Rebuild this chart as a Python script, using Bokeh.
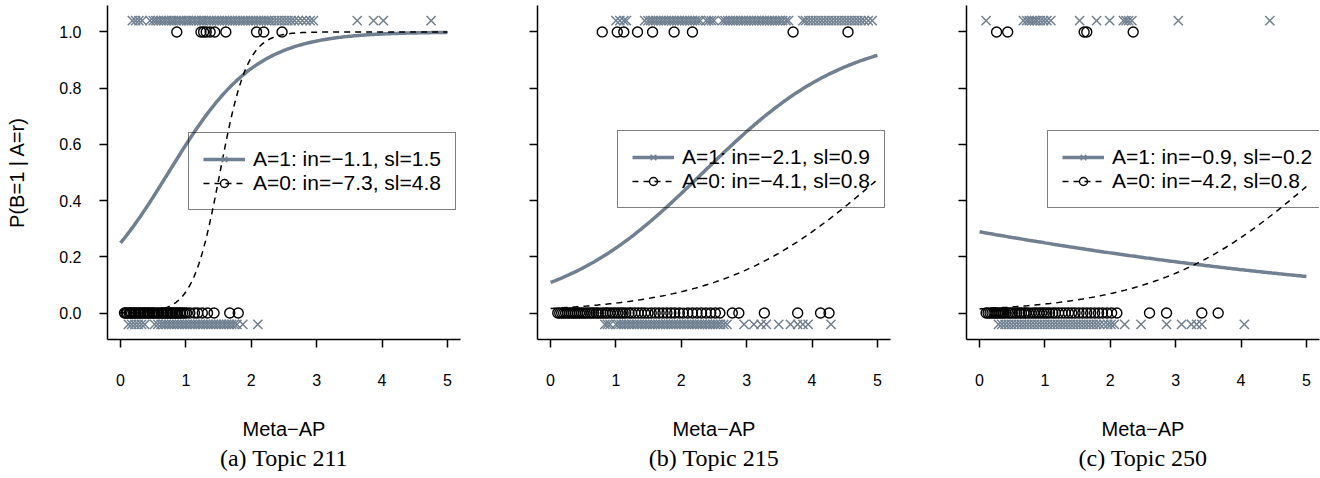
import numpy as np
from bokeh.plotting import figure
from bokeh.layouts import row
from bokeh.models import (Range1d, FixedTicker, Legend, LegendItem, Title, PrintfTickFormatter,
                          CustomJSTickFormatter)
from bokeh.embed import file_html
from bokeh.resources import INLINE

# Meta-AP values of the runs, split by A (1 = x marker, 0 = circle) and B (hi = 1, lo = 0)
t211_a1_hi = [0.18, 0.23, 0.28, 0.33, 0.45, 0.5, 0.54, 0.58, 0.62, 0.66, 0.7, 0.74, 0.78, 0.81,
              0.85, 0.89, 0.93, 0.97, 1.01, 1.04, 1.08, 1.12, 1.16, 1.2, 1.24, 1.27, 1.31, 1.35,
              1.39, 1.43, 1.47, 1.51, 1.55, 1.59, 1.63, 1.67, 1.71, 1.75, 1.79, 1.83, 1.87, 1.91,
              1.95, 1.99, 2.03, 2.07, 2.11, 2.15, 2.19, 2.23, 2.27, 2.31, 2.36, 2.41, 2.46, 2.51,
              2.56, 2.61, 2.66, 2.72, 2.78, 2.84, 2.9, 2.95, 3.62, 3.87, 4.02, 4.75]
t211_a0_hi = [0.86, 1.23, 1.27, 1.31, 1.37, 1.44, 1.61, 2.08, 2.19, 2.47]
t211_a0_lo = [0.06, 0.08, 0.1, 0.13, 0.15, 0.17, 0.2, 0.22, 0.24, 0.27, 0.29, 0.31, 0.34, 0.36,
              0.38, 0.41, 0.43, 0.45, 0.48, 0.5, 0.52, 0.55, 0.57, 0.59, 0.62, 0.64, 0.66, 0.69,
              0.71, 0.73, 0.76, 0.78, 0.8, 0.83, 0.85, 0.87, 0.9, 0.92, 0.95, 0.98, 1.01, 1.06,
              1.13, 1.18, 1.25, 1.33, 1.43, 1.67, 1.8]
t211_a1_lo = [0.12, 0.17, 0.22, 0.27, 0.32, 0.37, 0.52, 0.57, 0.62, 0.66, 0.7, 0.74, 0.78, 0.82,
              0.86, 0.9, 0.94, 0.98, 1.02, 1.06, 1.1, 1.14, 1.18, 1.22, 1.26, 1.3, 1.34, 1.38,
              1.42, 1.46, 1.5, 1.54, 1.58, 1.62, 1.66, 1.7, 1.74, 1.78, 1.87, 2.1]

t215_a1_hi = [1.0, 1.06, 1.12, 1.16, 1.44, 1.49, 1.53, 1.57, 1.61, 1.65, 1.69, 1.73, 1.77, 1.81,
              1.85, 1.89, 1.93, 1.97, 2.01, 2.05, 2.09, 2.13, 2.17, 2.21, 2.25, 2.29, 2.38, 2.42,
              2.46, 2.5, 2.63, 2.67, 2.71, 2.75, 2.79, 2.83, 2.87, 2.91, 2.95, 2.99, 3.03, 3.07,
              3.11, 3.15, 3.19, 3.23, 3.27, 3.31, 3.35, 3.39, 3.43, 3.47, 3.51, 3.55, 3.6, 3.64,
              3.86, 3.9, 3.95, 4.0, 4.05, 4.1, 4.15, 4.2, 4.25, 4.3, 4.35, 4.4, 4.45, 4.5, 4.55,
              4.6, 4.65, 4.7, 4.75, 4.8, 4.86, 4.92]
t215_a0_hi = [0.79, 1.02, 1.12, 1.33, 1.56, 1.89, 2.17, 3.71, 4.55]
t215_a0_lo = [0.11, 0.14, 0.17, 0.2, 0.23, 0.26, 0.29, 0.32, 0.35, 0.38, 0.41, 0.44, 0.47, 0.5,
              0.53, 0.56, 0.6, 0.63, 0.66, 0.7, 0.73, 0.77, 0.8, 0.84, 0.87, 0.91, 0.95, 0.99,
              1.03, 1.07, 1.11, 1.15, 1.2, 1.24, 1.29, 1.34, 1.39, 1.44, 1.49, 1.54, 1.6, 1.66,
              1.72, 1.78, 1.84, 1.9, 1.97, 2.03, 2.1, 2.17, 2.24, 2.31, 2.38, 2.45, 2.52, 2.59,
              2.78, 2.88, 3.27, 3.78, 4.13, 4.26]
t215_a1_lo = [0.83, 0.87, 0.91, 1.0, 1.04, 1.08, 1.12, 1.16, 1.2, 1.24, 1.28, 1.32, 1.36, 1.4,
              1.44, 1.48, 1.52, 1.56, 1.6, 1.64, 1.68, 1.72, 1.76, 1.8, 1.84, 1.88, 1.92, 1.96,
              2.0, 2.04, 2.08, 2.12, 2.16, 2.2, 2.24, 2.28, 2.32, 2.36, 2.4, 2.44, 2.48, 2.52,
              2.56, 2.6, 2.65, 2.7, 2.96, 3.11, 3.22, 3.3, 3.49, 3.67, 3.78, 3.86, 3.94, 4.29]

t250_a1_hi = [0.1, 0.67, 0.72, 0.76, 0.8, 0.84, 0.88, 0.93, 0.98, 1.03, 1.09, 1.53, 1.79, 1.99,
              2.2, 2.24, 2.28, 2.33, 3.04, 4.44]
t250_a0_hi = [0.26, 0.43, 1.6, 1.64, 2.35]
t250_a0_lo = [0.1, 0.13, 0.16, 0.19, 0.22, 0.25, 0.28, 0.31, 0.34, 0.37, 0.4, 0.44, 0.47, 0.5,
              0.54, 0.57, 0.61, 0.64, 0.68, 0.71, 0.75, 0.79, 0.83, 0.87, 0.91, 0.95, 0.99, 1.03,
              1.07, 1.12, 1.16, 1.21, 1.26, 1.31, 1.36, 1.41, 1.46, 1.52, 1.58, 1.64, 1.7, 1.76,
              1.82, 1.88, 1.95, 2.02, 2.1, 2.6, 2.86, 3.4, 3.65]
t250_a1_lo = [0.29, 0.34, 0.39, 0.44, 0.49, 0.54, 0.59, 0.64, 0.69, 0.74, 0.79, 0.84, 0.89, 0.94,
              0.99, 1.04, 1.09, 1.14, 1.19, 1.24, 1.29, 1.34, 1.39, 1.44, 1.49, 1.54, 1.59, 1.64,
              1.69, 1.74, 1.79, 1.84, 1.9, 1.96, 2.01, 2.06, 2.22, 2.47, 2.86, 3.09, 3.24, 3.32,
              3.4, 4.05]

# logistic fits: intercept and slope for A=1 and A=0
captions = ["(a) Topic 211", "(b) Topic 215", "(c) Topic 250"]
in_a1 = [-1.1, -2.1, -0.9]
sl_a1 = [1.5, 0.9, -0.2]
in_a0 = [-7.3, -4.1, -4.2]
sl_a0 = [4.8, 0.8, 0.8]

x_ticks = [0, 1, 2, 3, 4, 5]
y_ticks = [0.0, 0.2, 0.4, 0.6, 0.8, 1.0]

GRAY = "#708090"
SANS = "Liberation Sans"
SERIF = "Liberation Serif"
NAN = [float("nan")]


def fmt(v):
    return f"{v:.1f}".replace("-", "\u2212")


def panel(width, left, right, caption, a1_hi, a1_lo, a0_hi, a0_lo, i1, s1, i0, s0, leg_loc, ylabels):
    p = figure(width=width, height=478, title=None,
               x_range=Range1d(-0.2, 5.2), y_range=Range1d(-0.094, 1.094),
               output_backend="svg", toolbar_location=None,
               min_border_left=left, min_border_right=right,
               min_border_top=5, min_border_bottom=139)
    p.outline_line_color = None
    p.grid.visible = False

    # observations: A=1 drawn just outside 0/1, A=0 exactly at 0/1
    x_style = dict(marker="x", size=13, line_color=GRAY, line_width=1.5)
    o_style = dict(marker="circle", size=10, fill_color=None, line_color="black", line_width=1.4)
    p.scatter(a1_hi, [1.04] * len(a1_hi), **x_style)
    p.scatter(a1_lo, [-0.04] * len(a1_lo), **x_style)
    p.scatter(a0_hi, [1.0] * len(a0_hi), **o_style)
    p.scatter(a0_lo, [0.0] * len(a0_lo), **o_style)

    xs = np.linspace(0, 5, 201)
    y1 = 1.0 / (1.0 + np.exp(-(i1 + s1 * xs)))
    y0 = 1.0 / (1.0 + np.exp(-(i0 + s0 * xs)))
    r1 = p.line(xs, y1, line_color=GRAY, line_width=3.5)
    r0 = p.line(xs, y0, line_color="black", line_width=1.5, line_dash="6 5")

    # marker glyphs that only appear in the legend keys
    m1 = p.scatter(NAN, NAN, **x_style)
    m0 = p.scatter(NAN, NAN, **o_style)

    leg = Legend(items=[
        LegendItem(label=f"A=1: in={fmt(i1)}, sl={fmt(s1)}", renderers=[r1, m1]),
        LegendItem(label=f"A=0: in={fmt(i0)}, sl={fmt(s0)}", renderers=[r0, m0]),
    ], location=leg_loc)
    leg.margin = 0
    leg.padding = 14
    leg.spacing = 0
    leg.glyph_width = 42
    leg.label_standoff = 8
    leg.label_text_font = SANS
    leg.label_text_font_size = "21px"
    leg.label_text_color = "black"
    leg.border_line_color = "black"
    leg.border_line_width = 1.5
    leg.background_fill_alpha = 0
    p.add_layout(leg, "center")

    for ax in (p.xaxis[0], p.yaxis[0]):
        ax.axis_line_width = 1.5
        ax.axis_line_color = "black"
        ax.major_tick_line_width = 1.5
        ax.major_tick_out = 8
        ax.major_tick_in = 0
        ax.minor_tick_out = 0
        ax.minor_tick_in = 0
        ax.major_label_text_font = SANS
        ax.major_label_text_font_size = "16px"
        ax.major_label_text_color = "black"
        ax.axis_label_text_font = SANS
        ax.axis_label_text_font_size = "20px"
        ax.axis_label_text_font_style = "normal"
        ax.axis_label_text_color = "black"

    p.xaxis.ticker = FixedTicker(ticks=x_ticks)
    p.xaxis.axis_label = "Meta\u2212AP"
    p.xaxis.major_label_standoff = 26
    p.xaxis.axis_label_standoff = 29

    p.yaxis.ticker = FixedTicker(ticks=y_ticks)
    p.yaxis.major_label_orientation = "horizontal"
    if ylabels:
        p.yaxis.formatter = PrintfTickFormatter(format="%.1f")
        p.yaxis.axis_label = "P(B=1 | A=r)"
        p.yaxis.major_label_standoff = 18
        p.yaxis.axis_label_standoff = 28
    else:
        p.yaxis.formatter = CustomJSTickFormatter(code="return ''")
        p.yaxis.major_label_standoff = 0

    p.add_layout(Title(text=caption, align="center", text_font=SERIF, text_font_size="24px",
                       text_font_style="normal", text_color="black", standoff=0), "below")
    return p


p1 = panel(522, 107, 62, captions[0], t211_a1_hi, t211_a1_lo, t211_a0_hi, t211_a0_lo,
           in_a1[0], sl_a1[0], in_a0[0], sl_a0[0], (81, 129), True)
p2 = panel(429, 15, 61, captions[1], t215_a1_hi, t215_a1_lo, t215_a0_hi, t215_a0_lo,
           in_a1[1], sl_a1[1], in_a0[1], sl_a0[1], (80, 131), False)
p3 = panel(369, 15, 1, captions[2], t250_a1_hi, t250_a1_lo, t250_a0_hi, t250_a0_lo,
           in_a1[2], sl_a1[2], in_a0[2], sl_a0[2], (81, 131), False)

layout = row(p1, p2, p3, spacing=0)
open("out.html", "w").write(file_html(layout, INLINE))
